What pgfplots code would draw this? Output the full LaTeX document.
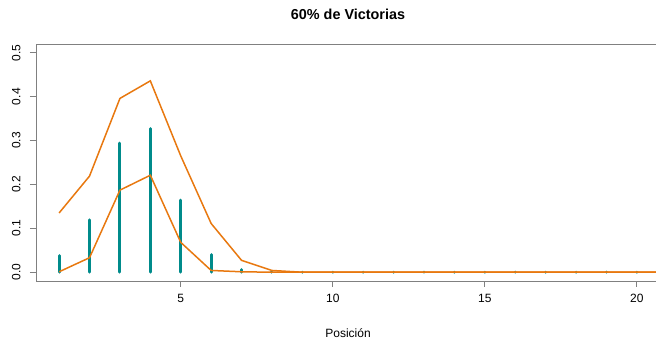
\documentclass[border=0pt]{standalone}
\usepackage{pgfplots}
\pgfplotsset{compat=1.18}
\usepackage{fontspec}
\setmainfont{Liberation Sans}
\definecolor{teal1}{HTML}{008B8B}
\definecolor{orng}{HTML}{E8780F}
\definecolor{axgray}{HTML}{808080}
\begin{document}
\begin{tikzpicture}
\useasboundingbox (0,0) rectangle (656pt,339pt);
\clip (0,0) rectangle (656pt,339pt);
\begin{axis}[
  at={(36pt,58pt)}, anchor=south west,
  scale only axis, width=624pt, height=237pt,
  xmin=0.24, xmax=20.76, ymin=-0.02, ymax=0.52,
  axis line style={axgray, line width=0.8pt},
  xtick={5,10,15,20}, ytick={0,0.1,0.2,0.3,0.4,0.5},
  xtick pos=bottom, ytick pos=left,
  tick align=outside, major tick length=6pt,
  tick style={axgray, line width=0.8pt},
  ticklabel style={font=\fontsize{12}{14}\selectfont, text=black},
  xticklabel style={yshift=-4pt},
  yticklabel style={rotate=90, anchor=south, yshift=6pt},
  /pgf/number format/assume math mode=true,
  yticklabel={\pgfmathprintnumber[fixed, fixed zerofill, precision=1]{\tick}},
  clip=false,
]
\addplot[ycomb, teal1, line width=3pt, line cap=round, mark=none] coordinates {
(1,0.038) (2,0.119) (3,0.294) (4,0.327) (5,0.164) (6,0.040) (7,0.006) (8,0.001)
(9,0) (10,0) (11,0) (12,0) (13,0) (14,0) (15,0) (16,0) (17,0) (18,0) (19,0) (20,0)};
\addplot[orng, line width=1.5pt, sharp plot, mark=none] coordinates {
(1,0.135) (2,0.219) (3,0.396) (4,0.436) (5,0.265) (6,0.111) (7,0.027) (8,0.004)
(9,0) (10,0) (11,0) (12,0) (13,0) (14,0) (15,0) (16,0) (17,0) (18,0) (19,0) (20,0) (20.76,0)};
\addplot[orng, line width=1.5pt, sharp plot, mark=none] coordinates {
(1,0.001) (2,0.033) (3,0.187) (4,0.221) (5,0.068) (6,0.004) (7,0.001) (8,0)
(9,0) (10,0) (11,0) (12,0) (13,0) (14,0) (15,0) (16,0) (17,0) (18,0) (19,0) (20,0) (20.76,0)};
\end{axis}
\node[font=\fontsize{14.4}{16}\selectfont\bfseries] at (348pt,325pt) {60\% de Victorias};
\node[font=\fontsize{12}{14}\selectfont] at (348pt,6pt) {Posición};
\end{tikzpicture}
\end{document}
